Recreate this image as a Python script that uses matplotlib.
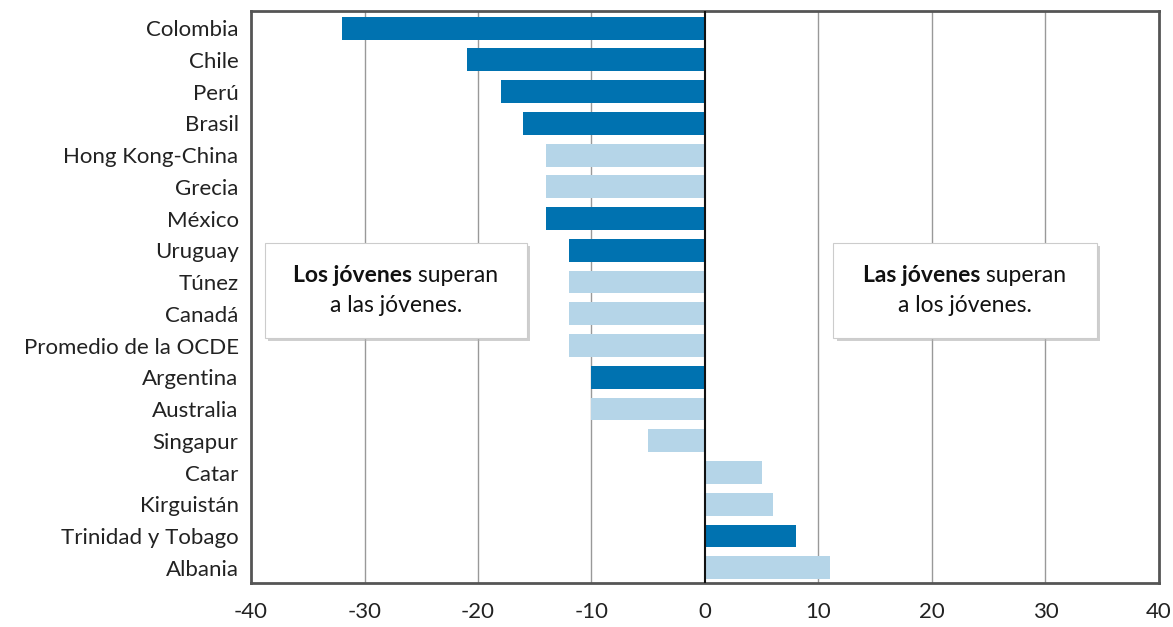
import matplotlib.pyplot as plt
from matplotlib.patches import Rectangle

paises = ["Colombia", "Chile", "Perú", "Brasil", "Hong Kong-China", "Grecia", "México",
          "Uruguay", "Túnez", "Canadá", "Promedio de la OCDE", "Argentina", "Australia",
          "Singapur", "Catar", "Kirguistán", "Trinidad y Tobago", "Albania"]
diferencia = [-32, -21, -18, -16, -14, -14, -14, -12, -12, -12, -12, -10, -10, -5, 5, 6, 8, 11]
# True = país latinoamericano (azul oscuro)
latam = [True, True, True, True, False, False, True, True, False, False, False, True, False,
         False, False, False, True, False]
ticks_x = [-40, -30, -20, -10, 0, 10, 20, 30, 40]

oscuro = "#0072B0"
claro = "#B5D5E8"

plt.rcParams['font.family'] = ['Lato', 'DejaVu Sans']

fig = plt.figure(figsize=(11.73, 6.27), dpi=100)
ax = fig.add_axes([0.214, 0.0702, 0.774, 0.9123])

y = list(range(len(paises)))
colores = [oscuro if l else claro for l in latam]
ax.barh(y, diferencia, height=0.72, color=colores, zorder=3)

ax.set_xlim(-40, 40)
ax.set_ylim(17.48, -0.54)
ax.set_xticks(ticks_x)
ax.set_xticklabels([str(t) for t in ticks_x], fontsize=16, color="#222222")
ax.set_yticks(y)
ax.set_yticklabels(paises, fontsize=16, color="#222222")
ax.tick_params(axis='both', length=0)
ax.tick_params(axis='x', pad=14)
ax.tick_params(axis='y', pad=9)

for t in ticks_x[1:-1]:
    if t != 0:
        ax.axvline(t, color="#999999", lw=1, zorder=1)
ax.axvline(0, color="#111111", lw=1.5, zorder=4)

for s in ax.spines.values():
    s.set_color("#555555")
    s.set_linewidth(2)

# cajas de texto
def caja(x0, x1, negrita, resto, linea2):
    y0, y1 = 6.77, 9.76
    ax.add_patch(Rectangle((x0 + 0.3, y0 + 0.1), x1 - x0, y1 - y0, facecolor="#b0b0b0",
                           edgecolor="none", alpha=0.6, zorder=5))
    ax.add_patch(Rectangle((x0, y0), x1 - x0, y1 - y0, facecolor="white",
                           edgecolor="#cccccc", lw=0.8, zorder=6))
    xc = (x0 + x1) / 2
    t1 = ax.text(xc, 7.8, negrita, fontsize=16.5, fontweight='bold', ha='left', va='center',
                 zorder=7, color="#111111")
    t2 = ax.annotate(" " + resto, xy=(1, 0), xycoords=t1, ha='left', va='bottom',
                     fontsize=16.5, zorder=7, color="#111111")
    fig.canvas.draw()
    r = fig.canvas.get_renderer()
    w = t1.get_window_extent(r).width + t2.get_window_extent(r).width
    px = ax.transData.transform((xc, 7.8))
    nx = ax.transData.inverted().transform((px[0] - w / 2, px[1]))[0]
    t1.set_x(nx)
    ax.text(xc, 8.75, linea2, fontsize=16.5, ha='center', va='center', zorder=7, color="#111111")

caja(-38.8, -15.7, "Los jóvenes", "superan", "a las jóvenes.")
caja(11.3, 34.5, "Las jóvenes", "superan", "a los jóvenes.")

fig.savefig("out.png", dpi=100)
